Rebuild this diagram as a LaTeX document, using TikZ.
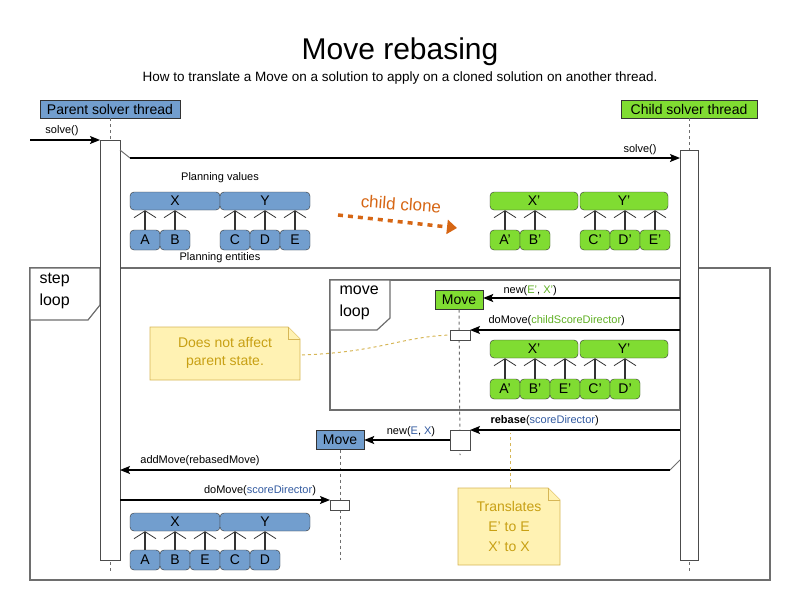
\documentclass[tikz,border=0pt]{standalone}
\usepackage{fontspec}
\setmainfont{Liberation Sans}
\usetikzlibrary{positioning}
\usetikzlibrary{arrows.meta}
\definecolor{pblue}{RGB}{114,158,206}
\definecolor{cgreen}{RGB}{128,220,50}
\definecolor{tblue}{RGB}{50,90,160}
\definecolor{tgreen}{RGB}{95,175,35}
\definecolor{clorange}{RGB}{214,102,20}
\definecolor{notefill}{RGB}{255,242,179}
\definecolor{noteline}{RGB}{214,182,86}
\definecolor{notetext}{RGB}{200,160,20}
\definecolor{lgray}{RGB}{110,110,110}
\tikzset{
    lbl/.style = {font=\fontsize{11}{13}\selectfont},
    hdr/.style = {draw=black!80, font=\fontsize{14}{16}\selectfont, inner sep=1pt, minimum height=18pt},
    val/.style = {draw=black!80, rounded corners=4pt, minimum height=18pt, inner sep=0pt, font=\fontsize{14}{16}\selectfont},
    ent/.style = {val, minimum width=30pt, minimum height=20pt},
    barb/.style = {lgray, line width=1.2pt, -{Straight Barb[length=7pt,width=22pt,line width=0.8pt]}, black!80},
    msg/.style = {draw=lgray, line width=1.2pt, -{Stealth[length=10pt,width=8pt,inset=2pt]}, black},
    life/.style = {lgray, line width=1pt, dashed, dash pattern=on 3pt off 3pt},
    act/.style = {draw=black!70, line width=1pt, fill=white},
    frame/.style = {draw=lgray, line width=1.2pt},
    note/.style = {draw=noteline, fill=notefill, line width=0.8pt},
}
\begin{document}
\begin{tikzpicture}[x=1pt, y=-1pt]
    \useasboundingbox (0,0) rectangle (800,600);

    % title
    \node (title) at (400,52) {\fontsize{30}{34}\selectfont Move rebasing};
    \node (subtitle) at (400,78) {\fontsize{13.5}{16}\selectfont How to translate a Move on a solution to apply on a cloned solution on another thread.};

    % loops
    \draw[frame] (30,268) rectangle (770,580);
    \draw[frame, fill=white] (30,268) -- (100,268) -- (100,305) -- (88,320) -- (30,320) -- cycle;
    \node[align=left, font=\fontsize{16}{22}\selectfont, anchor=north west] (steplbl) at (36,270) {step\\loop};
    \draw[frame] (330,280) rectangle (680,410);
    \draw[frame, fill=white] (330,280) -- (390,280) -- (390,318) -- (377,330) -- (330,330) -- cycle;
    \node[align=left, font=\fontsize{16}{22}\selectfont, anchor=north west] (movelbl) at (336,282) {move\\loop};

    % lifelines
    \node[hdr, fill=pblue, minimum width=140pt] (parent) at (110,109) {Parent solver thread};
    \node[hdr, fill=cgreen, minimum width=136pt] (child) at (689,109) {Child solver thread};
    \draw[life] (parent.south) -- (110,572);
    \draw[life] (child.south) -- (689,572);
    \draw[act] (100,140) rectangle (120,560);
    \draw[act] (680,150) rectangle (698,560);

    \coordinate (in) at (30,140);
    \coordinate (pact) at (100,140);
    \draw[msg] (in) -- (pact);
    \node[lbl] (solve1) at (62,131) {solve()};
    \coordinate (s0) at (120,150);
    \coordinate (s1) at (130,158);
    \coordinate (cact) at (680,158);
    \draw[draw=lgray, line width=1pt] (s0) -- (s1);
    \draw[msg] (s1) -- (cact);
    \node[lbl] (solve2) at (640,150) {solve()};

    % parent planning values
    \node[lbl] (pv) at (220,178) {Planning values};
    \node[val, fill=pblue, minimum width=90pt] (X) at (175,201) {X};
    \node[val, fill=pblue, minimum width=90pt] (Y) at (265,201) {Y};
    \foreach \n/\x/\v in {A/145/X, B/175/X, C/235/Y, D/265/Y, E/295/Y} {
        \node[ent, fill=pblue] (\n) at (\x,240) {\n};
        \draw[barb] (\n) -- (\n |- \v.south);
    }
    \node[lbl] (pe) at (220,258) {Planning entities};

    % child clone
    \node[text=clorange, rotate=-4, font=\fontsize{17}{20}\selectfont] (clone) at (401,204) {child clone};
    \coordinate (c0) at (338,215);
    \coordinate (c1) at (457,228);
    \draw[clorange, line width=3.5pt, dash pattern=on 5pt off 5pt, -{Triangle[length=10pt,width=14pt]}] (c0) -- (c1);

    \node[val, fill=cgreen, minimum width=88pt] (X1) at (534,201) {X'};
    \node[val, fill=cgreen, minimum width=88pt] (Y1) at (624,201) {Y'};
    \foreach \n/\x/\v in {A/505/X1, B/535/X1, C/595/Y1, D/625/Y1, E/655/Y1} {
        \node[ent, fill=cgreen] (\n1) at (\x,240) {\n'};
        \draw[barb] (\n1) -- (\n1 |- \v.south);
    }

    % move loop
    \node[hdr, fill=cgreen, minimum width=48pt, minimum height=19pt] (gmove) at (459,300) {Move};
    \draw[life] (gmove.south) -- (460,455);
    \coordinate (cm1) at (680,298);
    \draw[msg] (cm1) -- (gmove.east |- cm1);
    \node[lbl, anchor=west] (newc) at (500,291) {new(\textcolor{tgreen}{E'}, \textcolor{tgreen}{X'})};
    \draw[act] (450,330) rectangle (470,340);
    \coordinate (cm2) at (680,330);
    \coordinate (a2) at (470,330);
    \draw[msg] (cm2) -- (a2);
    \node[lbl, anchor=west] (domc) at (485,321) {doMove(\textcolor{tgreen}{childScoreDirector})};

    \node[val, fill=cgreen, minimum width=88pt] (X2) at (534,349) {X'};
    \node[val, fill=cgreen, minimum width=88pt] (Y2) at (624,349) {Y'};
    \foreach \n/\x/\v in {A/505/X2, B/535/X2, E/565/X2, C/595/Y2, D/625/Y2} {
        \node[ent, fill=cgreen] (\n2) at (\x,389) {\n'};
        \draw[barb] (\n2) -- (\n2 |- \v.south);
    }

    % note 1
    \draw[note] (150,327) -- (288,327) -- (300,339) -- (300,380) -- (150,380) -- cycle;
    \draw[note] (288,327) -- (288,339) -- (300,339);
    \node[text=notetext, align=center, font=\fontsize{14}{18}\selectfont] (note1) at (225,353) {Does not affect\\parent state.};
    \coordinate (n1) at (302,355);
    \coordinate (n2) at (450,335);
    \draw[noteline, line width=1pt, dash pattern=on 3pt off 3pt] (n1) .. controls (380,352) and (400,337) .. (n2);

    % rebase
    \draw[act] (450,430) rectangle (470,450);
    \coordinate (cr) at (680,430);
    \coordinate (ar) at (470,430);
    \draw[msg] (cr) -- (ar);
    \node[lbl, anchor=west] (reb) at (487,421) {\textbf{rebase}(\textcolor{tblue}{scoreDirector})};
    \node[hdr, fill=pblue, minimum width=48pt, minimum height=19pt] (bmove) at (340,440) {Move};
    \draw[life] (bmove.south) -- (340,560);
    \coordinate (ae) at (450,440);
    \draw[msg] (ae) -- (bmove.east |- ae);
    \node[lbl] (newp) at (411,432) {new(\textcolor{tblue}{E}, \textcolor{tblue}{X})};

    % add move
    \coordinate (m0) at (680,460);
    \coordinate (m1) at (670,470);
    \coordinate (m2) at (120,470);
    \draw[draw=lgray, line width=1pt] (m0) -- (m1);
    \draw[msg] (m1) -- (m2);
    \node[lbl] (addm) at (200,461) {addMove(rebasedMove)};

    % parent doMove
    \draw[act] (330,500) rectangle (349,510);
    \coordinate (d0) at (120,500);
    \coordinate (d1) at (330,500);
    \draw[msg] (d0) -- (d1);
    \node[lbl] (domp) at (260,491) {doMove(\textcolor{tblue}{scoreDirector})};

    \node[val, fill=pblue, minimum width=90pt] (X3) at (175,522) {X};
    \node[val, fill=pblue, minimum width=90pt] (Y3) at (265,522) {Y};
    \foreach \n/\x/\v in {A/145/X3, B/175/X3, E/205/X3, C/235/Y3, D/265/Y3} {
        \node[ent, fill=pblue] (\n3) at (\x,560) {\n};
        \draw[barb] (\n3) -- (\n3 |- \v.south);
    }

    % note 2
    \draw[note] (458,488) -- (548,488) -- (560,500) -- (560,565) -- (458,565) -- cycle;
    \draw[note] (548,488) -- (548,500) -- (560,500);
    \node[text=notetext, align=center, font=\fontsize{14}{20}\selectfont] (note2) at (509,526) {Translates\\E' to E\\X' to X};
    \coordinate (t0) at (510,488);
    \coordinate (t1) at (510,433);
    \draw[noteline, line width=1pt, dash pattern=on 3pt off 3pt] (t0) -- (t1);
\end{tikzpicture}
\end{document}
